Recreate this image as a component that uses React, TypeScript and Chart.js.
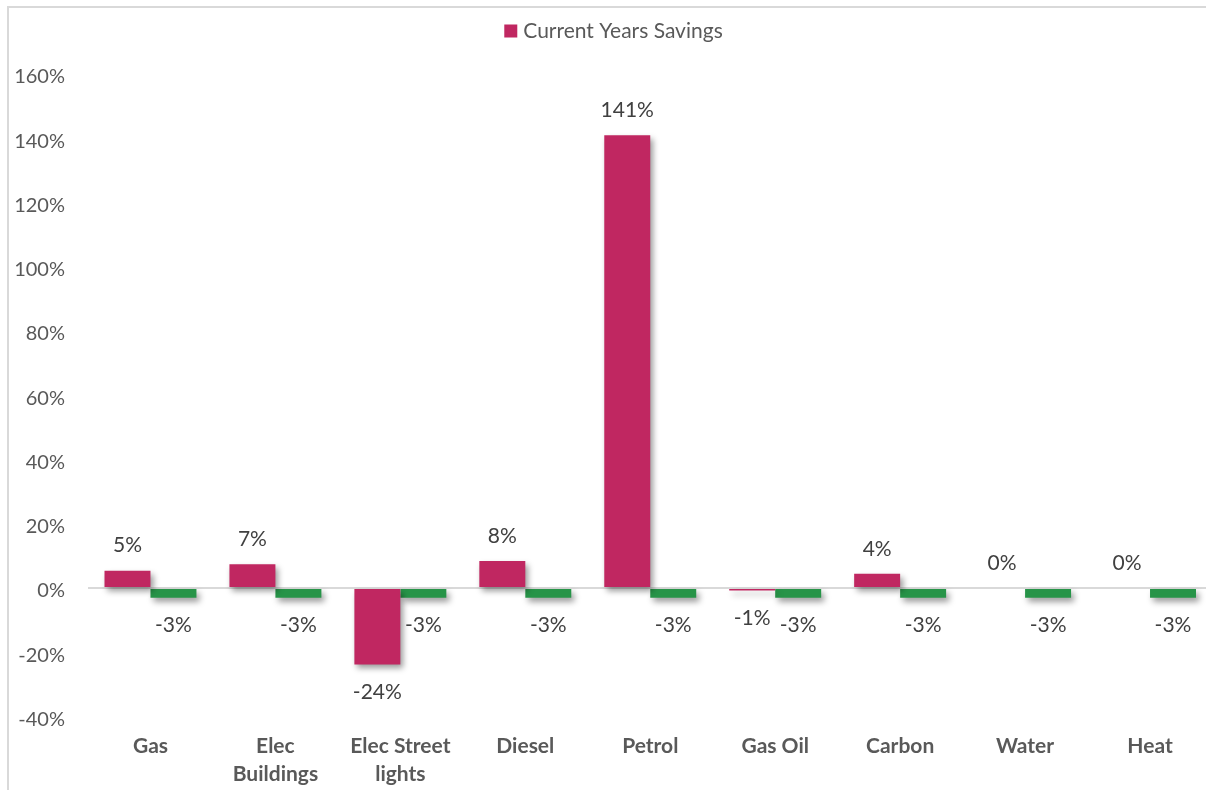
import React, { useEffect, useRef } from "react";
import { Chart, registerables } from "chart.js";

Chart.register(...registerables);

const categories: (string | string[])[] = [
  "Gas",
  ["Elec", "Buildings"],
  ["Elec Street", "lights"],
  "Diesel",
  "Petrol",
  "Gas Oil",
  "Carbon",
  "Water",
  "Heat",
];
const currentYearsSavings = [5.4, 7.4, -23.8, 8.4, 140.9, -0.8, 4.4, 0, 0];
const targetSavings = [-3, -3, -3, -3, -3, -3, -3, -3, -3];
const yTickMin = -40;
const yTickMax = 160;
const yTickStep = 20;
const legendLabel = "Current Years Savings";

const PINK = "#C02761";
const GREEN = "#279448";
const FONT = "Lato";

const shadowPlugin = {
  id: "barShadow",
  beforeDatasetsDraw(chart: any) {
    const ctx = chart.ctx;
    ctx.save();
    ctx.shadowColor = "rgba(0,0,0,0.4)";
    ctx.shadowBlur = 6;
    ctx.shadowOffsetX = 3;
    ctx.shadowOffsetY = 4;
  },
  afterDatasetsDraw(chart: any) {
    chart.ctx.restore();
  },
};

const labelPlugin = {
  id: "valueLabels",
  afterDraw(chart: any) {
    const ctx = chart.ctx;
    ctx.save();
    ctx.font = `21px ${FONT}`;
    ctx.fillStyle = "#404040";
    ctx.textAlign = "center";
    ctx.textBaseline = "middle";
    chart.data.datasets.forEach((ds: any, di: number) => {
      const meta = chart.getDatasetMeta(di);
      meta.data.forEach((el: any, i: number) => {
        const v = ds.data[i];
        const txt = `${Math.round(v)}%`;
        const y = v >= 0 ? el.y - 25 : el.y + 28;
        ctx.fillText(txt, el.x, y);
      });
    });
    ctx.restore();
  },
};

const legendPlugin = {
  id: "customLegend",
  afterDraw(chart: any) {
    const ctx = chart.ctx;
    ctx.save();
    ctx.font = `21px ${FONT}`;
    const w = ctx.measureText(legendLabel).width;
    const box = 13;
    const gap = 6;
    const total = box + gap + w;
    const cx = 613.5;
    const cy = 31;
    const x0 = cx - total / 2;
    ctx.fillStyle = PINK;
    ctx.fillRect(x0, cy - box / 2, box, box);
    ctx.fillStyle = "#595959";
    ctx.textAlign = "left";
    ctx.textBaseline = "middle";
    ctx.fillText(legendLabel, x0 + box + gap, cy);
    ctx.restore();
  },
};

export default function App() {
  const ref = useRef<HTMLCanvasElement | null>(null);

  useEffect(() => {
    if (!ref.current) return;
    const chart = new Chart(ref.current, {
      type: "bar",
      data: {
        labels: categories,
        datasets: [
          {
            label: legendLabel,
            data: currentYearsSavings,
            backgroundColor: PINK,
            borderWidth: 0,
            barPercentage: 1,
            categoryPercentage: 0.736,
          },
          {
            label: "Target Savings",
            data: targetSavings,
            backgroundColor: GREEN,
            borderWidth: 0,
            barPercentage: 1,
            categoryPercentage: 0.736,
          },
        ],
      },
      plugins: [shadowPlugin, labelPlugin, legendPlugin],
      options: {
        animation: false,
        responsive: false,
        maintainAspectRatio: false,
        layout: { padding: { top: 74, left: 0, right: 17.5, bottom: 0 } },
        plugins: {
          legend: { display: false },
          tooltip: { enabled: false },
        },
        scales: {
          x: {
            border: { display: false },
            grid: { display: false, drawTicks: false },
            ticks: {
              color: "#595959",
              font: { family: FONT, size: 21, weight: "bold", lineHeight: "28px" } as any,
              padding: 16,
              maxRotation: 0,
              autoSkip: false,
            },
            afterFit(scale: any) {
              scale.height = 83.5;
            },
          },
          y: {
            min: yTickMin,
            max: yTickMax,
            border: { display: false },
            grid: {
              drawTicks: false,
              lineWidth: 2,
              color: (c: any) => (c.tick && c.tick.value === 0 ? "#d9d9d9" : "rgba(0,0,0,0)"),
            },
            ticks: {
              stepSize: yTickStep,
              color: "#595959",
              font: { family: FONT, size: 20 },
              padding: 23,
              labelOffset: 3,
              callback: (v: any) => `${v}%`,
            },
            afterFit(scale: any) {
              scale.width = 88;
            },
          },
        },
      },
    } as any);
    return () => chart.destroy();
  }, []);

  return (
    <div style={{ position: "fixed", left: 0, top: 0, width: 1206, height: 790, overflow: "hidden", background: "#fff" }}>
      <div
        style={{
          position: "absolute",
          left: 7,
          top: 6,
          width: 1400,
          height: 1000,
          borderTop: "2px solid #d9d9d9",
          borderLeft: "2px solid #d9d9d9",
        }}
      />
      <canvas
        ref={ref}
        width={1230}
        height={800}
        style={{ position: "absolute", left: 0, top: 0, width: 1230, height: 800 }}
      />
    </div>
  );
}
